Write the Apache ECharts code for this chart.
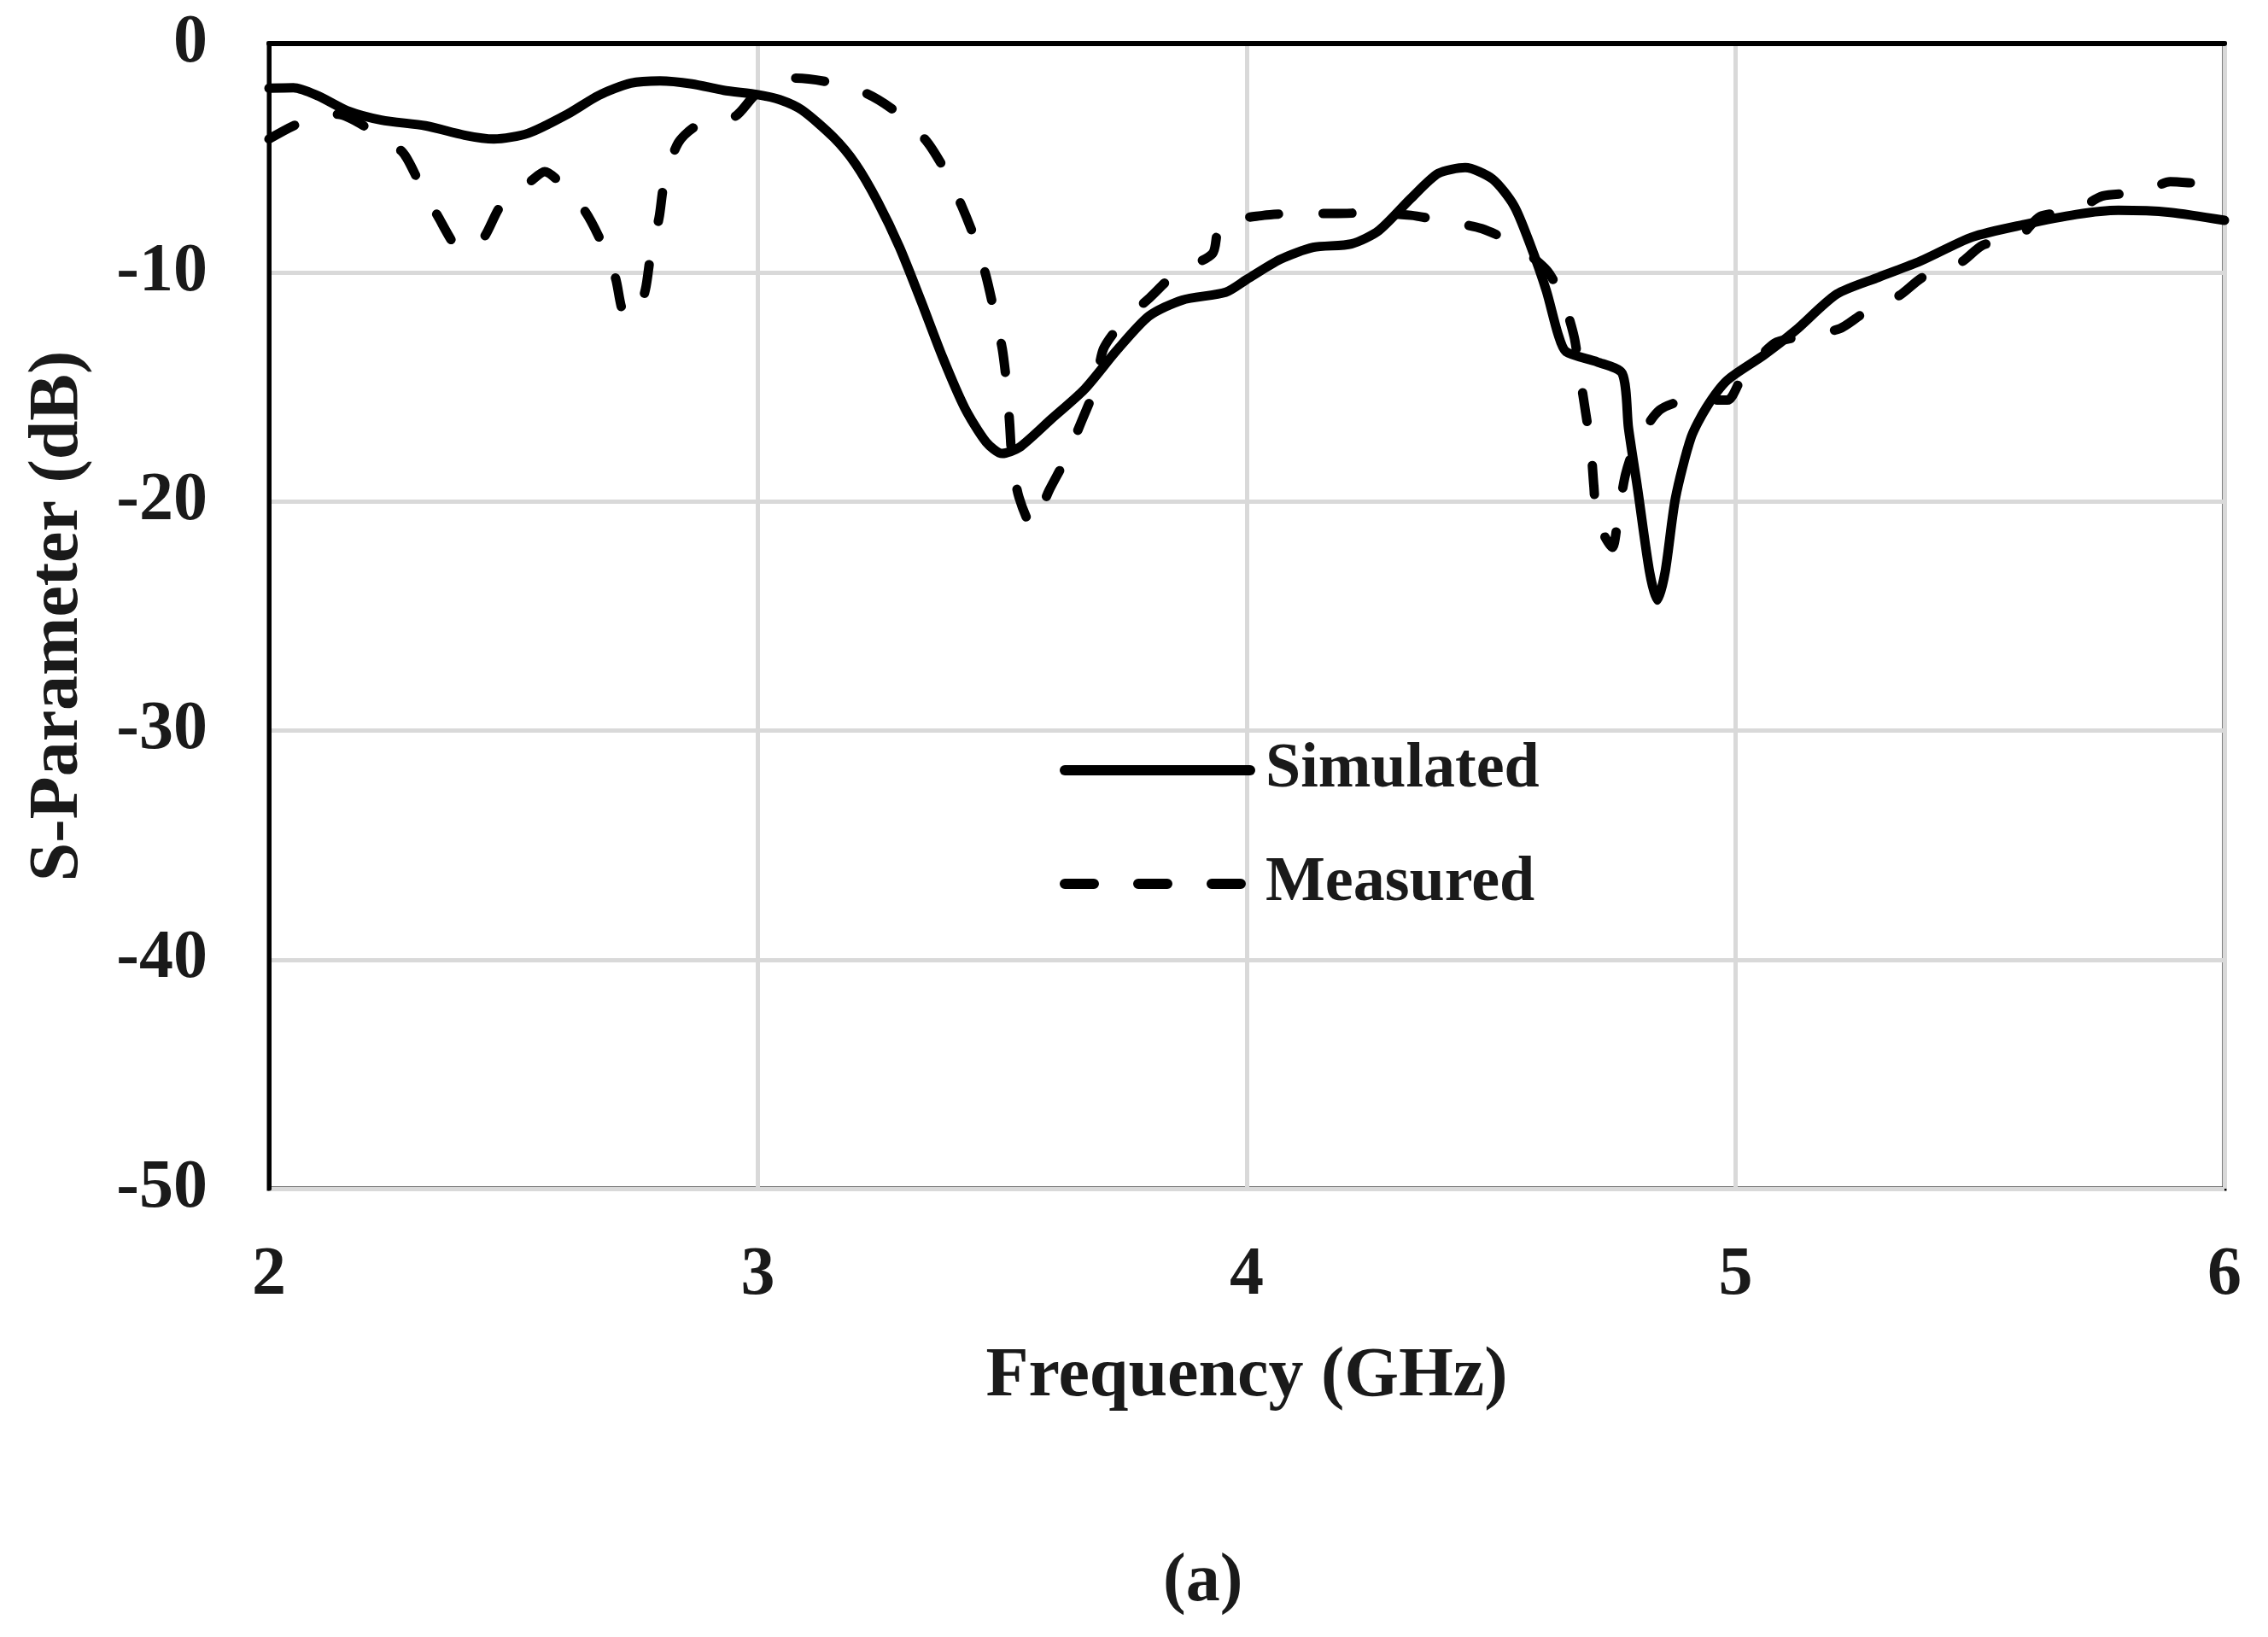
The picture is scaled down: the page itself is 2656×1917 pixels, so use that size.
<!DOCTYPE html>
<html>
<head>
<meta charset="utf-8">
<script src="https://cdn.jsdelivr.net/npm/echarts@6/dist/echarts.min.js"></script>
<style>
  html, body { margin: 0; padding: 0; background: #fff; }
  #chart { width: 2656px; height: 1917px; }
</style>
</head>
<body>
<div id="chart"></div>
<script>
// frequency (GHz) / S-parameter (dB)
var simFreq = [2.00, 2.05, 2.10, 2.16, 2.23, 2.32, 2.40, 2.46, 2.53, 2.61, 2.675, 2.74, 2.80, 2.865, 2.93, 3.00,
  3.045, 3.09, 3.155, 3.20, 3.245, 3.29, 3.334, 3.378, 3.423, 3.467, 3.50, 3.534, 3.60, 3.668, 3.734, 3.80,
  3.868, 3.957, 4.00, 4.069, 4.136, 4.214, 4.27, 4.336, 4.392, 4.447, 4.503, 4.547, 4.58, 4.613, 4.637, 4.653,
  4.717, 4.768, 4.781, 4.80, 4.824, 4.84, 4.856, 4.877, 4.909, 4.94, 4.983, 5.058, 5.122, 5.207, 5.293, 5.378,
  5.484, 5.591, 5.697, 5.783, 5.889, 6.00];
var simDb = [-1.95, -1.93, -2.28, -2.93, -3.34, -3.59, -4.00, -4.17, -3.92, -3.09, -2.26, -1.73, -1.63, -1.76, -2.04, -2.23,
  -2.45, -2.9, -4.1, -5.26, -6.9, -8.9, -11.25, -13.7, -15.9, -17.4, -17.9, -17.65, -16.4, -15.1, -13.4, -11.9,
  -11.2, -10.86, -10.3, -9.42, -8.9, -8.75, -8.17, -6.76, -5.67, -5.42, -5.92, -7.09, -8.78, -10.8, -12.7, -13.45,
  -13.9, -14.4, -16.8, -19.5, -23.06, -24.3, -23.06, -19.85, -17.2, -15.9, -14.7, -13.6, -12.54, -10.94, -10.2, -9.5,
  -8.45, -7.9, -7.46, -7.28, -7.37, -7.72];

var measFreq = [2.00, 2.06, 2.14, 2.207, 2.274, 2.308, 2.347, 2.384, 2.41, 2.441, 2.474, 2.536, 2.564, 2.597, 2.647, 2.68,
  2.709, 2.725, 2.75, 2.77, 2.781, 2.798, 2.809, 2.837, 2.875, 2.954, 2.998, 3.076, 3.144, 3.222, 3.284, 3.345,
  3.384, 3.417, 3.445, 3.467, 3.484, 3.50, 3.509, 3.515, 3.52, 3.534, 3.561, 3.596, 3.629, 3.662, 3.69, 3.707,
  3.746, 3.802, 3.852, 3.93, 3.946, 4.035, 4.102, 4.186, 4.247, 4.336, 4.403, 4.481, 4.547, 4.614, 4.648, 4.67,
  4.681, 4.693, 4.704, 4.71, 4.717, 4.748, 4.76, 4.775, 4.797, 4.845, 4.904, 4.983, 5.015, 5.08, 5.133, 5.213,
  5.26, 5.335, 5.383, 5.458, 5.506, 5.58, 5.623, 5.697, 5.75, 5.836, 5.889, 5.963, 6.00];
var measDb = [-4.17, -3.5, -3.09, -3.76, -4.76, -6.1, -7.6, -8.9, -9.0, -8.42, -7.09, -6.0, -5.59, -6.1, -7.34, -8.67,
  -10.25, -11.75, -11.9, -10.74, -9.17, -7.6, -6.0, -4.34, -3.59, -3.17, -2.18, -1.51, -1.68, -2.18, -3.0, -4.26,
  -5.59, -7.09, -8.59, -10.17, -11.75, -13.33, -14.9, -16.57, -18.16, -19.8, -21.07, -19.5, -18.16, -16.5, -15.0, -13.33,
  -12.17, -11.09, -10.08, -9.17, -7.9, -7.5, -7.42, -7.42, -7.39, -7.5, -7.75, -8.08, -8.75, -9.9, -11.25, -12.83,
  -14.4, -16.07, -17.65, -19.3, -20.8, -22.0, -20.6, -18.8, -17.45, -16.0, -15.57, -15.57, -14.5, -13.08, -12.8, -12.45,
  -11.8, -11.0, -10.2, -9.6, -8.8, -8.44, -7.55, -7.28, -6.66, -6.48, -6.03, -6.12, -5.8];

var seriesNames = ['Simulated', 'Measured'];
var xTicks = [2, 3, 4, 5, 6];
var yTicks = [0, -10, -20, -30, -40, -50];

function pairs(xs, ys) {
  var out = [];
  for (var i = 0; i < xs.length; i++) out.push([xs[i], ys[i]]);
  return out;
}

var FONT = 'Liberation Serif';
var TXT = '#1a1a1a';

var myChart = echarts.init(document.getElementById('chart'));

var option = {
  backgroundColor: '#fff',
  animation: false,
  title: {
    text: '(a)',
    left: 1357,
    top: 1808,
    textStyle: { fontFamily: FONT, fontWeight: 'bold', fontSize: 80, color: TXT }
  },
  legend: {
    orient: 'vertical',
    left: 1236,
    top: 857,
    itemWidth: 217,
    itemHeight: 20,
    itemGap: 53,
    data: seriesNames,
    itemStyle: { opacity: 0 },
    lineStyle: { width: 12 },
    textStyle: {
      fontFamily: FONT, fontWeight: 'bold', fontSize: 74, color: TXT,
      lineHeight: 80, padding: [0, 0, 0, 13]
    }
  },
  grid: {
    left: 315,
    right: 51,
    top: 51,
    bottom: 525,
    show: true,
    borderColor: '#000',
    borderWidth: 5
  },
  xAxis: {
    type: 'value',
    min: xTicks[0],
    max: xTicks[xTicks.length - 1],
    interval: 1,
    name: 'Frequency (GHz)',
    nameLocation: 'middle',
    nameGap: 180,
    nameTextStyle: { fontFamily: FONT, fontWeight: 'bold', fontSize: 82, color: TXT },
    axisLine: { show: true, lineStyle: { color: '#000', width: 6 } },
    axisTick: { show: false },
    axisLabel: { margin: 62, fontFamily: FONT, fontWeight: 'bold', fontSize: 80, color: TXT },
    splitLine: { show: true, lineStyle: { color: '#d9d9d9', width: 5 } }
  },
  yAxis: {
    type: 'value',
    min: yTicks[yTicks.length - 1],
    max: yTicks[0],
    interval: 10,
    name: 'S-Parameter (dB)',
    nameLocation: 'middle',
    nameGap: 205,
    nameTextStyle: { fontFamily: FONT, fontWeight: 'bold', fontSize: 82, color: TXT },
    axisLine: { show: true, lineStyle: { color: '#000', width: 5 } },
    axisTick: { show: false },
    axisLabel: { margin: 72, fontFamily: FONT, fontWeight: 'bold', fontSize: 80, color: TXT },
    splitLine: { show: true, lineStyle: { color: '#d9d9d9', width: 5 } }
  },
  series: [
    {
      name: seriesNames[0],
      type: 'line',
      symbol: 'none',
      showSymbol: false,
      smooth: 0.25,
      lineStyle: { color: '#000', width: 11, type: 'solid', cap: 'round', join: 'round' },
      itemStyle: { color: '#000' },
      data: pairs(simFreq, simDb)
    },
    {
      name: seriesNames[1],
      type: 'line',
      symbol: 'none',
      showSymbol: false,
      smooth: 0.25,
      lineStyle: { color: '#000', width: 11, type: [34, 52], cap: 'round', join: 'round' },
      itemStyle: { color: '#000' },
      data: pairs(measFreq, measDb)
    }
  ]
};

myChart.setOption(option);
</script>
</body>
</html>
